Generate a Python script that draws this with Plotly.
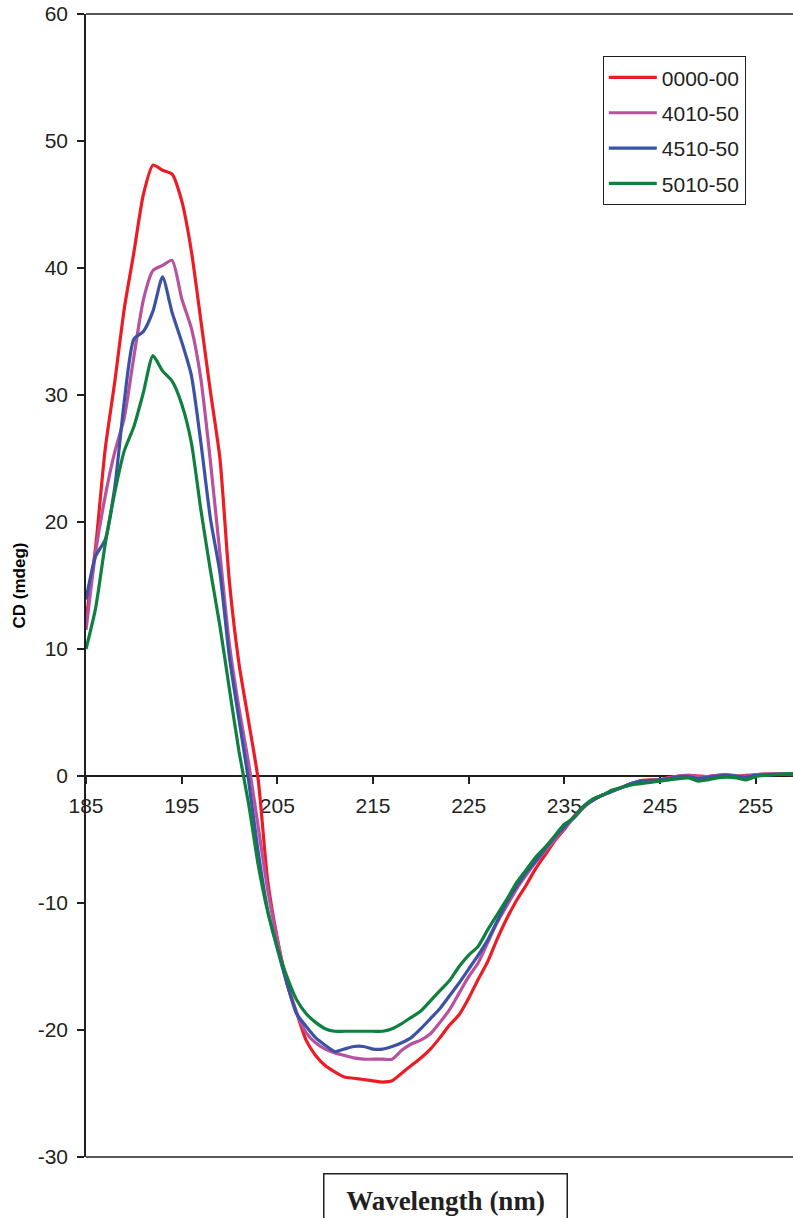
import plotly.graph_objects as go

wavelength = list(range(185, 260))

cd_0000_00 = [12.3, 18.0, 25.7, 31.0, 36.8, 41.2, 45.8, 48.1, 47.7, 47.4,
              45.3, 41.4, 35.9, 30.3, 25.0, 15.2, 8.8, 4.3, -0.3, -8.3,
              -12.8, -16.3, -18.6, -20.8, -22.0, -22.8, -23.3, -23.7, -23.8, -23.9,
              -24.0, -24.1, -24.0, -23.4, -22.8, -22.2, -21.5, -20.6, -19.6, -18.8,
              -17.5, -16.0, -14.6, -12.8, -11.2, -9.8, -8.6, -7.3, -6.2, -5.1,
              -4.2, -3.2, -2.4, -1.9, -1.5, -1.2, -0.9, -0.6, -0.35, -0.3,
              -0.3, -0.1, 0.0, 0.05, 0.0, -0.05, 0.05, 0.1, 0.0, 0.05,
              0.1, 0.15, 0.15, 0.15, 0.1]

cd_4010_50 = [11.5, 17.6, 22.0, 25.5, 28.2, 33.0, 37.5, 39.8, 40.2, 40.6,
              37.6, 35.3, 31.3, 24.8, 17.5, 10.3, 5.3, 1.0, -4.0, -9.0,
              -12.9, -16.3, -18.6, -20.2, -21.0, -21.5, -21.8, -22.0, -22.2, -22.3,
              -22.3, -22.3, -22.3, -21.6, -21.1, -20.8, -20.3, -19.4, -18.4, -17.1,
              -15.8, -14.7, -13.1, -11.5, -10.2, -8.9, -7.8, -6.8, -5.9, -5.0,
              -4.1, -3.3, -2.5, -1.9, -1.5, -1.2, -0.9, -0.6, -0.4, -0.35,
              -0.3, -0.15, 0.0, 0.05, -0.05, -0.05, 0.05, 0.1, 0.0, 0.0,
              0.1, 0.15, 0.15, 0.15, 0.15]

cd_4510_50 = [13.9, 17.3, 18.6, 22.7, 29.5, 34.4, 35.0, 36.6, 39.3, 36.5,
              34.2, 31.6, 26.3, 20.3, 16.0, 9.3, 4.4, -0.4, -6.0, -10.6,
              -13.6, -16.3, -18.7, -19.7, -20.6, -21.2, -21.7, -21.5, -21.3, -21.3,
              -21.5, -21.5, -21.3, -21.0, -20.6, -19.9, -19.1, -18.3, -17.3, -16.3,
              -15.2, -14.1, -12.9, -11.4, -9.9, -8.7, -7.6, -6.7, -5.7, -4.8,
              -4.0, -3.2, -2.4, -1.9, -1.5, -1.2, -0.9, -0.6, -0.4, -0.35,
              -0.3, -0.2, -0.05, -0.05, -0.2, -0.1, 0.0, 0.05, 0.0, -0.1,
              0.05, 0.1, 0.15, 0.15, 0.15]

cd_5010_50 = [10.0, 13.2, 18.2, 22.3, 25.6, 27.5, 30.2, 33.1, 31.9, 31.1,
              29.3, 26.3, 21.0, 16.2, 11.8, 6.8, 1.9, -2.2, -7.0, -10.7,
              -13.5, -15.8, -17.6, -18.7, -19.4, -19.9, -20.1, -20.1, -20.1, -20.1,
              -20.1, -20.1, -19.9, -19.5, -19.0, -18.5, -17.7, -16.9, -16.1, -15.0,
              -14.1, -13.4, -12.1, -10.9, -9.7, -8.4, -7.4, -6.4, -5.6, -4.7,
              -3.8, -3.3, -2.4, -1.8, -1.5, -1.1, -0.9, -0.7, -0.6, -0.5,
              -0.4, -0.3, -0.2, -0.15, -0.4, -0.3, -0.15, -0.1, -0.15, -0.3,
              -0.05, 0.05, 0.1, 0.15, 0.2]

series_names = ["0000-00", "4010-50", "4510-50", "5010-50"]
series_values = [cd_0000_00, cd_4010_50, cd_4510_50, cd_5010_50]
series_colors = ["#ED1C24", "#B8529F", "#3A53A4", "#0F8040"]

x_ticks = [185, 195, 205, 215, 225, 235, 245, 255]
y_ticks = [60, 50, 40, 30, 20, 10, 0, -10, -20, -30]

INK = "#231F20"

fig = go.Figure()
for name, vals, col in zip(series_names, series_values, series_colors):
    fig.add_trace(go.Scatter(
        x=wavelength, y=vals, name=name, mode="lines",
        line=dict(color=col, width=3.2, shape="spline", smoothing=0.6),
        legendgroup=name,
    ))

fig.update_layout(
    width=793, height=1218,
    margin=dict(l=86, r=0, t=14, b=61),
    paper_bgcolor="white", plot_bgcolor="white",
    font=dict(family="Liberation Sans, Arial, sans-serif", size=21, color=INK),
    showlegend=True,
    legend=dict(
        x=0.731, y=0.963, xanchor="left", yanchor="top",
        bordercolor=INK, borderwidth=1, bgcolor="white",
        font=dict(size=21, color=INK),
        tracegroupgap=5, itemwidth=48,
    ),
    xaxis=dict(
        range=[185, 258.9], tickvals=x_ticks, ticktext=[str(t) for t in x_ticks],
        showgrid=False, zeroline=False, showline=True, linecolor=INK, linewidth=1.5,
        ticks="outside", ticklen=7, tickwidth=1.5, tickcolor=INK,
        anchor="free", position=1/3, layer="below traces",
        ticklabelstandoff=4,
    ),
    yaxis=dict(
        range=[-30, 60], tickvals=y_ticks, ticktext=[str(t) for t in y_ticks],
        showgrid=False, zeroline=False, showline=True, linecolor=INK, linewidth=1.5,
        ticks="outside", ticklen=7, tickwidth=1.5, tickcolor=INK,
        layer="below traces", ticklabelstandoff=5,
        title=dict(text="<b>CD (mdeg)</b>", font=dict(size=17, color="black"), standoff=8),
    ),
    shapes=[
        dict(type="line", xref="paper", yref="paper", x0=0, x1=1, y0=1, y1=1,
             line=dict(color=INK, width=1.5), layer="below"),
        dict(type="line", xref="paper", yref="paper", x0=0, x1=1, y0=0, y1=0,
             line=dict(color=INK, width=1.5), layer="below"),
    ],
    annotations=[
        dict(text="<b>Wavelength (nm)</b>", xref="paper", yref="paper",
             x=(445 - 86) / 707, y=(1157 - 1200) / 1143, xanchor="center", yanchor="middle",
             showarrow=False, font=dict(family="Liberation Serif, Times New Roman, serif", size=27, color=INK),
             bordercolor=INK, borderwidth=1.5, borderpad=9, width=224, height=34,
             bgcolor="white"),
    ],
)

fig.write_html("out.html")
